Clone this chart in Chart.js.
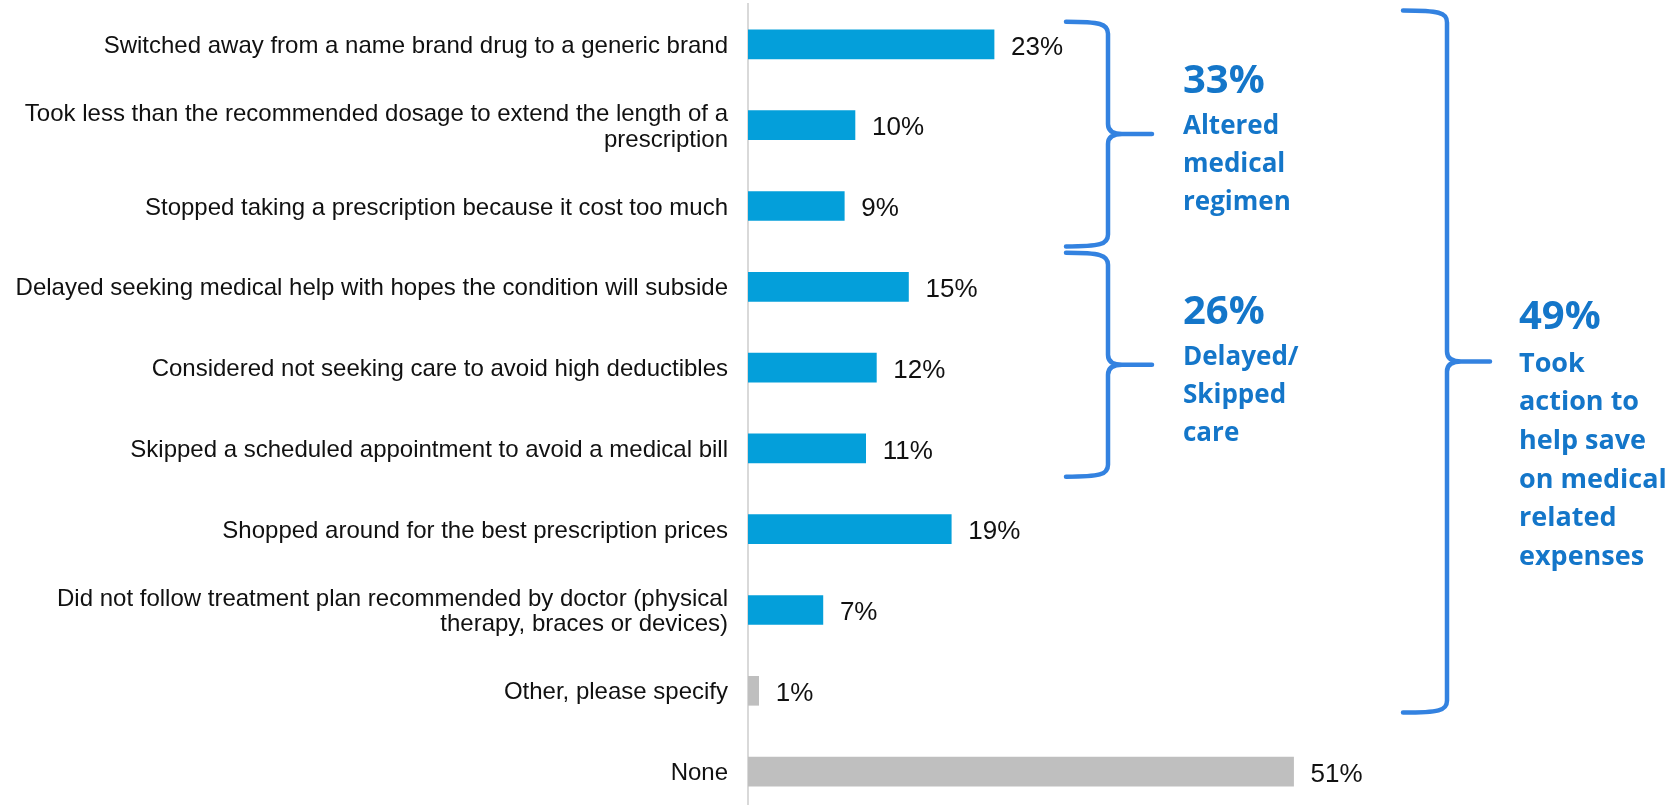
<!DOCTYPE html>
<html>
<head>
<meta charset="utf-8">
<script src="https://cdn.jsdelivr.net/npm/chart.js@4.4.1/dist/chart.umd.min.js"></script>
<style>
  html, body { margin: 0; padding: 0; background: #fff; overflow: hidden; }
  #wrap { position: relative; width: 1668px; height: 812px; }
</style>
</head>
<body>
<div id="wrap"><canvas id="myChart"></canvas></div>
<script>
"use strict";

// categories (multi-line labels are arrays)
var categories = [
    "Switched away from a name brand drug to a generic brand",
    ["Took less than the recommended dosage to extend the length of a", "prescription"],
    "Stopped taking a prescription because it cost too much",
    "Delayed seeking medical help with hopes the condition will subside",
    "Considered not seeking care to avoid high deductibles",
    "Skipped a scheduled appointment to avoid a medical bill",
    "Shopped around for the best prescription prices",
    ["Did not follow treatment plan recommended by doctor (physical", "therapy, braces or devices)"],
    "Other, please specify",
    "None"
];
var values = [23, 10, 9, 15, 12, 11, 19, 7, 1, 51];
// "Other" and "None" are drawn in gray
var grayItems = ["Other, please specify", "None"];

// bracketed groups: first / last category index, total and caption
var groupFirst = [0, 3, 0];
var groupLast = [2, 5, 8];
var groupValues = [33, 26, 49];
var groupCaptions = [
    ["Altered", "medical", "regimen"],
    ["Delayed/", "Skipped", "care"],
    ["Took", "action to", "help save", "on medical", "related", "expenses"]
];

var BLUE = "#049FDA";
var GRAY = "#BFBFBF";
var BRACE = "#3382E0";
var TEXT_BLUE = "#1476C9";

// value labels to the right of each bar
var valueLabels = {
    id: "valueLabels",
    afterDatasetsDraw: function (chart) {
        var ctx = chart.ctx;
        var meta = chart.getDatasetMeta(0);
        ctx.save();
        ctx.font = "26px 'Liberation Sans', Arial, sans-serif";
        ctx.fillStyle = "#111";
        ctx.textAlign = "left";
        ctx.textBaseline = "middle";
        meta.data.forEach(function (bar, i) {
            ctx.fillText(values[i] + "%", bar.x + 17, bar.y + 3);
        });
        ctx.restore();
    }
};

// curly brace "}" with the tip pointing right
function drawBrace(ctx, xl, xv, xt, top, mid, bottom) {
    ctx.beginPath();
    ctx.moveTo(xl, top);
    ctx.bezierCurveTo(xv - 8, top, xv, top + 2, xv, top + 12);
    ctx.lineTo(xv, mid - 10);
    ctx.quadraticCurveTo(xv, mid, xv + 14, mid);
    ctx.lineTo(xt, mid);
    ctx.moveTo(xv + 14, mid);
    ctx.quadraticCurveTo(xv, mid, xv, mid + 10);
    ctx.lineTo(xv, bottom - 12);
    ctx.bezierCurveTo(xv, bottom - 2, xv - 8, bottom, xl, bottom);
    ctx.stroke();
}

// braces + group captions
var groupBraces = {
    id: "groupBraces",
    afterDraw: function (chart) {
        var ctx = chart.ctx;
        var y = chart.scales.y;
        var step = y.getPixelForValue(1) - y.getPixelForValue(0);
        // pixel layout for each brace
        var layout = [
            {xl: 1066, xv: 1108, xt: 1152, topOff: -0.28, botOff: 0.5, tx: 1183, head: -41, first: 0, line: 38, size: 26},
            {xl: 1066, xv: 1108, xt: 1152, topOff: -0.42, botOff: 0.35, tx: 1183, head: -41, first: 0, line: 38, size: 26},
            {xl: 1403, xv: 1447, xt: 1490, topOff: -0.42, botOff: 0.27, tx: 1519, head: -33, first: 10, line: 38.7, size: 27}
        ];
        ctx.save();
        ctx.strokeStyle = BRACE;
        ctx.lineWidth = 4.5;
        ctx.lineCap = "round";
        ctx.lineJoin = "round";
        layout.forEach(function (L, g) {
            var top = y.getPixelForValue(groupFirst[g]) + L.topOff * step;
            var bottom = y.getPixelForValue(groupLast[g]) + L.botOff * step;
            var mid = (top + bottom) / 2;
            drawBrace(ctx, L.xl, L.xv, L.xt, top, mid, bottom);

            ctx.fillStyle = TEXT_BLUE;
            ctx.textAlign = "left";
            ctx.textBaseline = "alphabetic";
            ctx.font = "bold 40px 'Open Sans', sans-serif";
            ctx.fillText(groupValues[g] + "%", L.tx, mid + L.head);
            ctx.font = "bold " + L.size + "px 'Open Sans', sans-serif";
            groupCaptions[g].forEach(function (t, k) {
                ctx.fillText(t, L.tx, mid + L.first + k * L.line);
            });
        });
        ctx.restore();
    }
};

var ctx = document.getElementById("myChart");
var chart = new Chart(ctx, {
    type: "bar",
    data: {
        labels: categories,
        datasets: [{
            data: values,
            backgroundColor: function (c) {
                var lbl = categories[c.dataIndex];
                return grayItems.indexOf(lbl) >= 0 ? GRAY : BLUE;
            },
            barThickness: 29,
            borderWidth: 0
        }]
    },
    options: {
        indexAxis: "y",
        responsive: true,
        maintainAspectRatio: false,
        animation: false,
        layout: { padding: { top: 4, right: 0, bottom: 0, left: 0 } },
        plugins: {
            legend: { display: false },
            tooltip: { enabled: false }
        },
        scales: {
            x: {
                display: false,
                min: 0,
                max: 86
            },
            y: {
                grid: { display: false, drawTicks: false },
                border: { display: true, color: "#D9D9D9", width: 2 },
                ticks: {
                    autoSkip: false,
                    padding: 20,
                    labelOffset: 2,
                    color: "#111",
                    font: { family: "'Liberation Sans', Arial, sans-serif", size: 24, lineHeight: 1.07 }
                },
                afterFit: function (scale) {
                    scale.width = 748;
                    // no extra room above/below for the first and last tick label
                    scale.paddingTop = 0;
                    scale.paddingBottom = 0;
                }
            }
        }
    },
    plugins: [valueLabels, groupBraces]
});
</script>
</body>
</html>
